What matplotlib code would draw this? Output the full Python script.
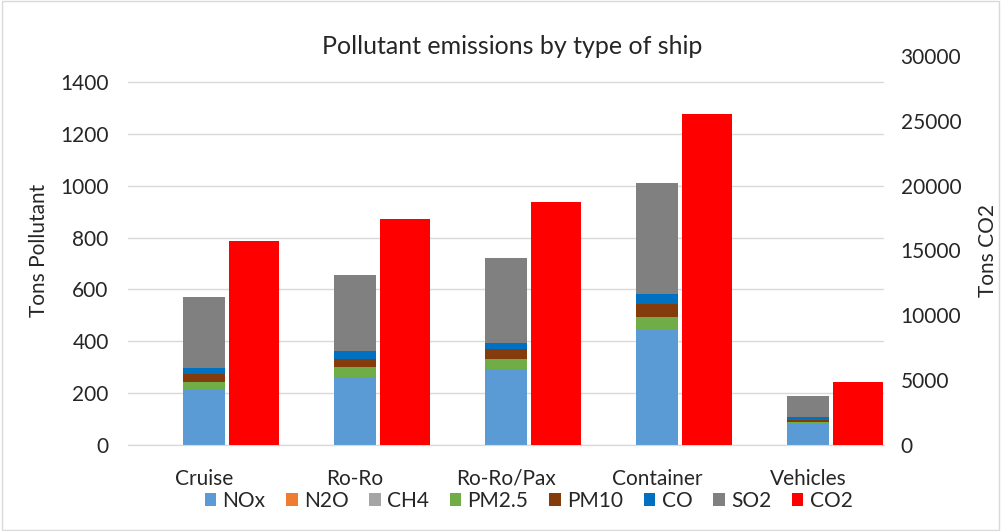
import numpy as np
import matplotlib
matplotlib.use('Agg')
from matplotlib import pyplot as plt

plt.rcParams['font.family'] = ['Lato', 'DejaVu Sans']

ships = ['Cruise', 'Ro-Ro', 'Ro-Ro/Pax', 'Container', 'Vehicles']
nox = [211, 262, 292, 443, 79]
n2o = [1, 1, 1, 1, 0.5]
ch4 = [1, 1, 1, 1, 0.5]
pm25 = [29, 36, 37, 50, 8]
pm10 = [32, 33, 39, 49, 9]
co = [22, 28, 24, 40, 10]
so2 = [274, 296, 328, 425, 82]
co2 = [15750, 17450, 18750, 25550, 4880]

stack = [('NOx', nox, '#5B9BD5'), ('N2O', n2o, '#ED7D31'), ('CH4', ch4, '#A5A5A5'),
         ('PM2.5', pm25, '#70AD47'), ('PM10', pm10, '#843C0C'), ('CO', co, '#0070C0'),
         ('SO2', so2, '#808080')]

fig = plt.figure(figsize=(10.01, 5.31), dpi=100)
ax = fig.add_axes([0.128, 0.162, 0.755, 0.7325])
ax2 = ax.twinx()

x = np.arange(len(ships))
bottom = np.zeros(len(ships))
handles = []
for name, vals, col in stack:
    b = ax.bar(x, vals, 0.28, bottom=bottom, color=col, label=name, zorder=3)
    bottom += np.array(vals)
    handles.append(b)
b = ax2.bar(x + 0.33, co2, 0.33, color='#FF0000', label='CO2', zorder=3)
handles.append(b)

ax.set_xlim(-0.5, 4.5)
ax.set_ylim(0, 1500)
ax.set_yticks(range(0, 1401, 200))
ax2.set_ylim(0, 30000)
ax2.set_yticks(range(0, 30001, 5000))
ax.set_xticks(x)
ax.set_xticklabels(ships)

ax.grid(axis='y', color='#d9d9d9', linewidth=1, zorder=0)
ax.set_axisbelow(True)
for a in (ax, ax2):
    for s in ('top', 'left', 'right'):
        a.spines[s].set_visible(False)
    a.spines['bottom'].set_color('#d9d9d9')
    a.tick_params(length=0, labelsize=15, colors='#262626')
ax.tick_params(axis='x', pad=17)
ax.tick_params(axis='y', pad=14)
ax2.tick_params(axis='y', pad=12)

ax.set_ylabel('Tons Pollutant', fontsize=15, color='#262626', labelpad=8)
ax2.set_ylabel('Tons CO2', fontsize=15, color='#262626', rotation=90, labelpad=12)
fig.text(0.512, 0.913, 'Pollutant emissions by type of ship', ha='center', va='center',
         fontsize=18, color='#262626')

fig.legend(handles=handles, labels=[h.get_label() for h in handles], loc='center',
           bbox_to_anchor=(0.528, 0.057), ncol=8, frameon=False, fontsize=15,
           handlelength=0.55, handleheight=0.55, handletextpad=0.3, columnspacing=1.0,
           labelcolor='#262626')

fig.patches.append(plt.Rectangle((0.002, 0.002), 0.996, 0.996, transform=fig.transFigure,
                                 fill=False, edgecolor='#d9d9d9', linewidth=1))
fig.savefig('out.png', dpi=100)
